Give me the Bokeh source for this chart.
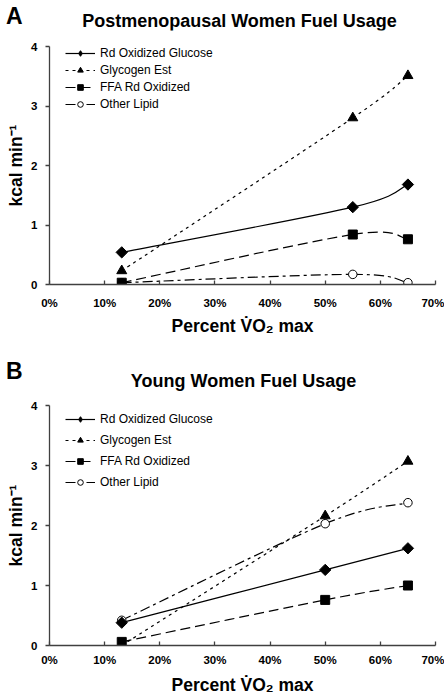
import numpy as np
from bokeh.plotting import figure
from bokeh.layouts import column
from bokeh.models import Range1d, Label, Legend, LegendItem, FixedTicker, PrintfTickFormatter
from bokeh.embed import file_html
from bokeh.resources import INLINE

# ---------------- data ----------------
series_names = ["Rd Oxidized Glucose", "Glycogen Est", "FFA Rd Oxidized", "Other Lipid"]

pct_a = [13.1, 55.0, 65.0]
glucose_a = [0.54, 1.30, 1.68]
glycogen_a = [0.23, 2.80, 3.51]
ffa_a = [0.03, 0.84, 0.76]
lipid_a = [0.03, 0.17, 0.03]

pct_b = [13.1, 50.0, 65.0]
glucose_b = [0.38, 1.26, 1.62]
glycogen_b = [0.00, 2.16, 3.07]
ffa_b = [0.06, 0.76, 1.00]
lipid_b = [0.42, 2.03, 2.38]

x_ticks = [0, 10, 20, 30, 40, 50, 60, 70]
y_ticks = [0, 1, 2, 3, 4]

FONT = "Liberation Sans"
W = 444
LEFT = 49
RIGHT = 9

styles = [
    dict(dash="solid", marker="square", angle=np.pi / 4, size=8, fill="black", legend_marker="diamond", legend_size=11),
    dict(dash="3 4", marker="triangle", angle=0.0, size=10, fill="black", legend_marker=None, legend_size=0),
    dict(dash="10 5", marker="square", angle=0.0, size=9, fill="black", legend_marker=None, legend_size=0),
    dict(dash="10 4 3 4", marker="circle", angle=0.0, size=8.5, fill="white", legend_marker=None, legend_size=0),
]
# marker stacking order (bottom -> top): Other Lipid, Glycogen, FFA, Glucose
draw_order = [3, 1, 2, 0]


def smooth_parts(xs, ys):
    P = np.column_stack([xs, ys]).astype(float)
    n = len(P)
    out = dict(x0=[], y0=[], x1=[], y1=[], cx0=[], cy0=[], cx1=[], cy1=[])
    for i in range(n - 1):
        pm = P[max(i - 1, 0)]
        p0 = P[i]
        p1 = P[i + 1]
        pp = P[min(i + 2, n - 1)]
        c0 = p0 + (p1 - pm) / 6.0
        c1 = p1 - (pp - p0) / 6.0
        out["x0"].append(p0[0]); out["y0"].append(p0[1])
        out["x1"].append(p1[0]); out["y1"].append(p1[1])
        out["cx0"].append(c0[0]); out["cy0"].append(c0[1])
        out["cx1"].append(c1[0]); out["cy1"].append(c1[1])
    return out


def make_header(letter, title, height, bottom, title_y, title_center):
    h = figure(width=W, height=height, output_backend="svg", toolbar_location=None,
               x_range=Range1d(0, 1), y_range=Range1d(0, 1),
               x_axis_type=None, y_axis_location="left",
               min_border_left=LEFT, min_border_right=RIGHT,
               min_border_top=0, min_border_bottom=bottom)
    h.outline_line_color = None
    h.xgrid.grid_line_color = None
    h.ygrid.grid_line_color = None
    ax = h.yaxis[0]
    ax.ticker = FixedTicker(ticks=[])
    ax.axis_line_color = None
    ax.major_tick_line_color = None
    ax.minor_tick_line_color = None
    ax.major_tick_in = 0
    ax.major_tick_out = 0
    ax.major_label_standoff = 0
    ax.axis_label = letter
    ax.axis_label_orientation = "horizontal"
    ax.axis_label_text_font = FONT
    ax.axis_label_text_font_style = "bold"
    ax.axis_label_text_font_size = "23px"
    ax.axis_label_text_color = "black"
    ax.axis_label_standoff = 27
    h.add_layout(Label(x=title_center - LEFT, y=title_y, x_units="screen", y_units="screen",
                       text=title, text_font=FONT, text_font_style="bold",
                       text_font_size="18px", text_align="center",
                       text_baseline="alphabetic", text_color="black"))
    return h


def make_panel(xs, series, height, top, bottom, tick_standoff, label_standoff,
               spacing, first_row_gap):
    p = figure(width=W, height=height, output_backend="svg", toolbar_location=None,
               x_range=Range1d(0, 70), y_range=Range1d(0, 4),
               min_border_left=LEFT, min_border_right=RIGHT,
               min_border_top=top, min_border_bottom=bottom)
    p.outline_line_color = None
    p.xgrid.grid_line_color = None
    p.ygrid.grid_line_color = None

    for ax in (p.xaxis[0], p.yaxis[0]):
        ax.axis_line_color = "#404040"
        ax.axis_line_width = 1.3
        ax.major_tick_line_color = "#404040"
        ax.major_tick_line_width = 1.3
        ax.minor_tick_line_color = None
        ax.major_label_text_font = FONT
        ax.major_label_text_font_style = "bold"
        ax.major_label_text_font_size = "11.5px"
        ax.major_label_text_color = "black"
        ax.axis_label_text_font = FONT
        ax.axis_label_text_font_style = "bold"
        ax.axis_label_text_font_size = "17.5px"
        ax.axis_label_text_color = "black"

    p.xaxis.ticker = FixedTicker(ticks=x_ticks)
    p.xaxis.formatter = PrintfTickFormatter(format="%d%%")
    p.xaxis.major_tick_in = 4
    p.xaxis.major_tick_out = 0
    p.xaxis.major_label_standoff = tick_standoff
    p.xaxis.axis_label = "Percent V\u0307O\u2082 max"
    p.xaxis.axis_label_standoff = label_standoff

    p.yaxis.ticker = FixedTicker(ticks=y_ticks)
    p.yaxis.major_tick_in = 0
    p.yaxis.major_tick_out = 4
    p.yaxis.major_label_standoff = 8
    p.yaxis.axis_label = "kcal min\u207b\u00b9"
    p.yaxis.axis_label_standoff = 2

    lines = {}
    for i, (ys, st) in enumerate(zip(series, styles)):
        lines[i] = p.bezier(line_color="black", line_width=1.2, line_dash=st["dash"],
                            **smooth_parts(xs, ys))
    points = {}
    for i in draw_order:
        st = styles[i]
        points[i] = p.scatter(xs, series[i], marker=st["marker"], size=st["size"],
                              angle=st["angle"], fill_color=st["fill"],
                              line_color="black", line_width=1)

    items = []
    for i, name in enumerate(series_names):
        st = styles[i]
        if st["legend_marker"] is not None:
            r_leg = p.scatter(xs, series[i], marker=st["legend_marker"], size=st["legend_size"],
                              fill_color=st["fill"], line_color="black", line_width=1,
                              visible=False)
            items.append(LegendItem(label=name, renderers=[lines[i], r_leg]))
        else:
            items.append(LegendItem(label=name, renderers=[lines[i], points[i]]))

    row_h = 14
    legend = Legend(items=items)
    legend.margin = 0
    legend.padding = 0
    legend.border_line_color = None
    legend.background_fill_alpha = 0
    legend.inactive_fill_alpha = 0
    legend.label_text_font = FONT
    legend.label_text_font_size = "12px"
    legend.label_text_color = "black"
    legend.glyph_width = 30
    legend.glyph_height = row_h
    legend.label_height = row_h
    legend.spacing = spacing
    legend.label_standoff = 5
    frame_h = height - top - bottom
    leg_h = 4 * row_h + 3 * spacing
    legend.location = (16, frame_h - first_row_gap - leg_h)
    p.add_layout(legend, "center")
    return p


head_a = make_header("A", "Postmenopausal Women Fuel Usage", 38, 8, 10, 239)
pa = make_panel(pct_a, [glucose_a, glycogen_a, ffa_a, lipid_a],
                306, 8, 60, 12, 4, 3, 0)
head_b = make_header("B", "Young Women Fuel Usage", 53, 1, 16, 243)
pb = make_panel(pct_b, [glucose_b, glycogen_b, ffa_b, lipid_b],
                301, 8, 53, 8, 6, 7, 7)

layout = column(head_a, pa, head_b, pb, spacing=0)
open("out.html", "w").write(file_html(layout, INLINE))
